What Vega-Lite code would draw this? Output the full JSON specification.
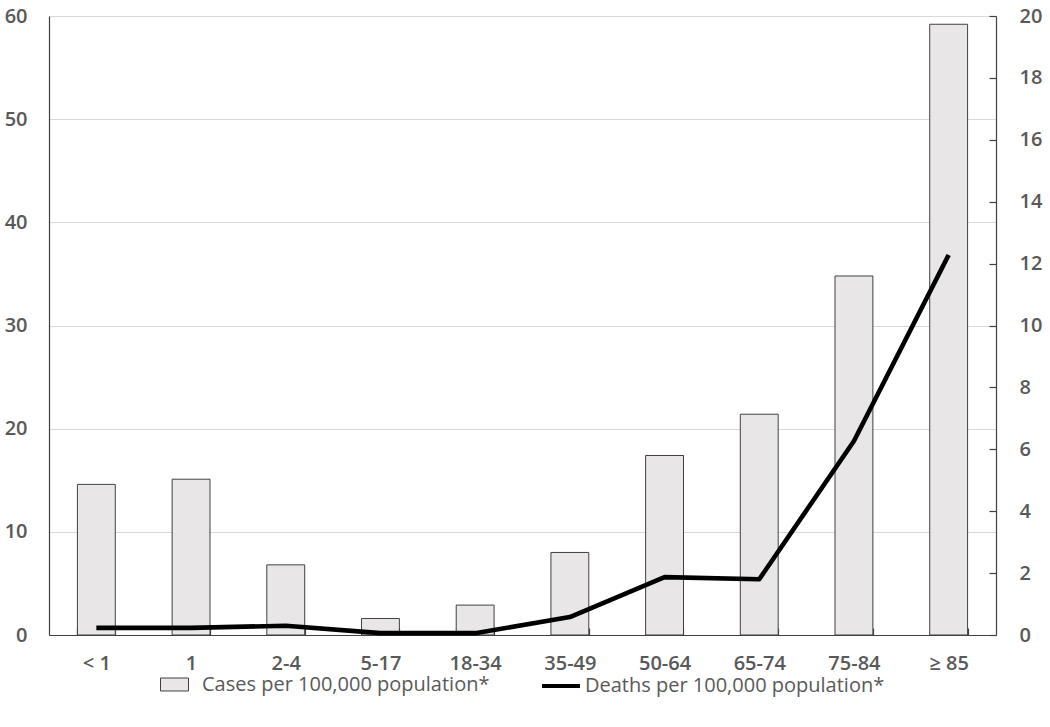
{
  "$schema": "https://vega.github.io/schema/vega-lite/v6.json",
  "width": 947,
  "height": 619,
  "autosize": {"type": "none"},
  "padding": {"left": 49, "top": 16, "right": 54, "bottom": 92},
  "background": "white",
  "config": {
    "view": {"stroke": null},
    "font": "Open Sans",
    "legend": {"layout": {"bottom": {"anchor": "middle", "direction": "horizontal", "margin": 50}}}
  },
  "data": {
    "values": [
      {"age": "< 1", "cases": 14.6, "deaths": 0.23},
      {"age": "1", "cases": 15.1, "deaths": 0.23},
      {"age": "2-4", "cases": 6.8, "deaths": 0.3},
      {"age": "5-17", "cases": 1.6, "deaths": 0.06},
      {"age": "18-34", "cases": 2.9, "deaths": 0.06},
      {"age": "35-49", "cases": 8.0, "deaths": 0.58},
      {"age": "50-64", "cases": 17.4, "deaths": 1.87},
      {"age": "65-74", "cases": 21.4, "deaths": 1.8},
      {"age": "75-84", "cases": 34.8, "deaths": 6.27},
      {"age": "≥ 85", "cases": 59.2, "deaths": 12.28}
    ]
  },
  "encoding": {
    "x": {
      "field": "age",
      "type": "nominal",
      "sort": null,
      "scale": {"paddingInner": 0.6, "paddingOuter": 0.3},
      "axis": {
        "title": null,
        "labelAngle": 0,
        "labelFont": "Open Sans",
        "labelFontSize": 20,
        "labelFontWeight": 600,
        "labelColor": "#595959",
        "labelPadding": 25,
        "domainColor": "#404040",
        "domainWidth": 1.2,
        "tickBand": "extent",
        "tickColor": "#404040",
        "tickWidth": 1.2,
        "tickSize": -7,
        "grid": false
      }
    }
  },
  "layer": [
    {
      "mark": {"type": "bar", "stroke": "#404040", "strokeWidth": 1},
      "encoding": {
        "y": {
          "field": "cases",
          "type": "quantitative",
          "scale": {"domain": [0, 60]},
          "axis": {
            "title": null,
            "values": [0, 10, 20, 30, 40, 50, 60],
            "labelFont": "Open Sans",
            "labelFontSize": 20,
            "labelFontWeight": 600,
            "labelColor": "#595959",
            "labelPadding": 22,
            "domainColor": "#404040",
            "domainWidth": 1.2,
            "ticks": false,
            "grid": true,
            "gridColor": "#d9d9d9",
            "gridWidth": 1
          }
        },
        "fill": {
          "datum": "Cases per 100,000 population*",
          "type": "nominal",
          "scale": {"range": ["#e8e6e6"]},
          "legend": {
            "title": null,
            "orient": "bottom",
            "direction": "horizontal",
            "offset": -8,
            "symbolType": "M-1,-0.342H0.474V0.342H-1Z",
            "symbolSize": 1444,
            "symbolStrokeColor": "#404040",
            "symbolStrokeWidth": 1,
            "labelFont": "Open Sans",
            "labelFontSize": 20,
            "labelColor": "#595959",
            "labelLimit": 0,
            "labelOffset": 3
          }
        }
      }
    },
    {
      "mark": {"type": "line", "strokeWidth": 4.6, "strokeJoin": "round"},
      "encoding": {
        "y": {
          "field": "deaths",
          "type": "quantitative",
          "scale": {"domain": [0, 20]},
          "axis": {
            "title": null,
            "orient": "right",
            "values": [0, 2, 4, 6, 8, 10, 12, 14, 16, 18, 20],
            "labelFont": "Open Sans",
            "labelFontSize": 20,
            "labelFontWeight": 600,
            "labelColor": "#595959",
            "labelPadding": 30,
            "domainColor": "#404040",
            "domainWidth": 1.2,
            "tickColor": "#404040",
            "tickWidth": 1.2,
            "tickSize": -7,
            "grid": false
          }
        },
        "stroke": {
          "datum": "Deaths per 100,000 population*",
          "type": "nominal",
          "scale": {"range": ["black"]},
          "legend": {
            "title": null,
            "orient": "bottom",
            "direction": "horizontal",
            "offset": -8,
            "symbolType": "stroke",
            "symbolSize": 1444,
            "symbolStrokeWidth": 4,
            "labelFont": "Open Sans",
            "labelFontSize": 20,
            "labelColor": "#595959",
            "labelLimit": 0,
            "labelOffset": 3
          }
        }
      }
    }
  ],
  "resolve": {"scale": {"y": "independent", "fill": "independent", "stroke": "independent"}}
}
